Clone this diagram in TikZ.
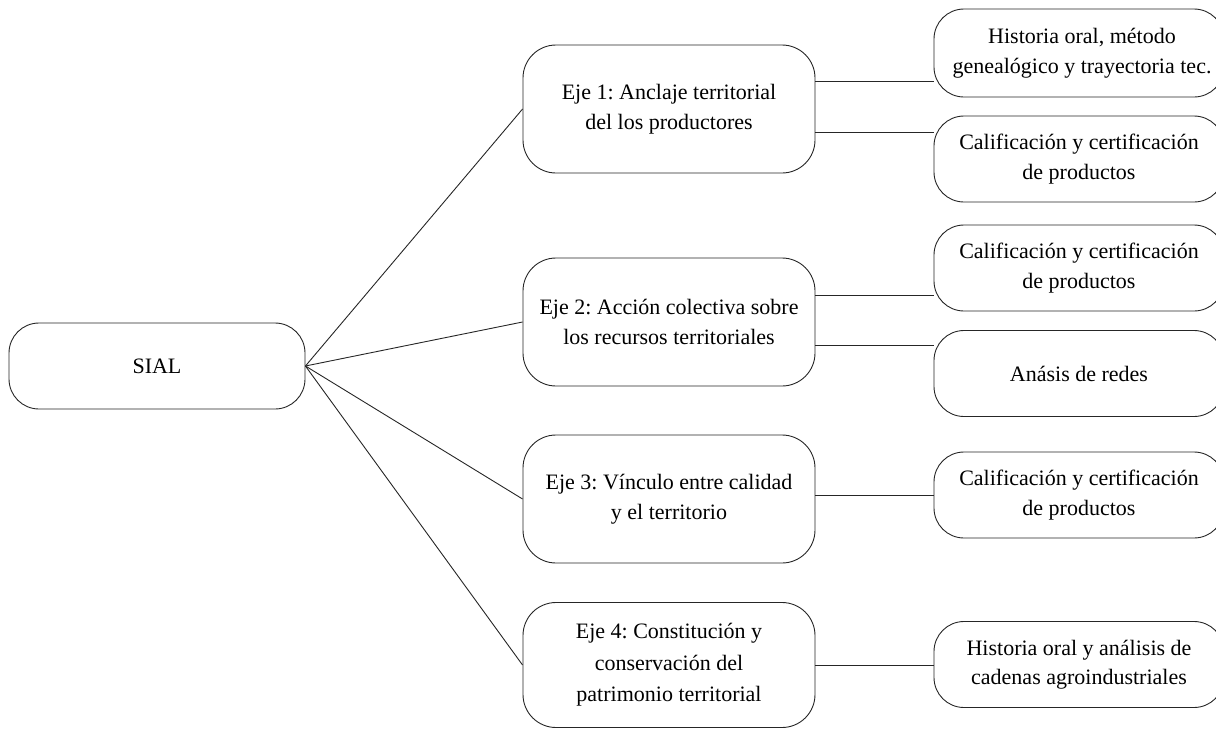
\documentclass[tikz,border=0pt]{standalone}
\usepackage{fontspec}
\setmainfont{Liberation Serif}
\frenchspacing
\begin{document}
\begin{tikzpicture}[x=1pt,y=-1pt,
  box/.style={draw=black!85, line width=0.9pt, rounded corners=30pt, align=center,
              font=\fontsize{22}{29.5}\selectfont, inner sep=0pt},
  eje/.style={box, rounded corners=33pt, minimum width=292pt, minimum height=128pt},
  res/.style={box, minimum width=290pt, minimum height=86pt},
  link/.style={draw=black!85, line width=0.9pt}]
\useasboundingbox (0,0) rectangle (1216,729);
\clip (0,0) rectangle (1216,729);
\node[box, minimum width=296pt, minimum height=86pt] (sial) at (157,366) {SIAL};
\node[eje] (e1) at (669,109) {Eje 1: Anclaje territorial\\del los productores};
\node[eje] (e2) at (669,322) {Eje 2: Acción colectiva sobre\\los recursos territoriales};
\node[eje] (e3) at (669,499) {Eje 3: Vínculo entre calidad\\y el territorio};
\node[eje, minimum height=125pt, font=\fontsize{22}{31.5}\selectfont] (e4) at (669,665) {Eje 4: Constitución y\\conservación del\\patrimonio territorial};
\node[res, minimum height=88pt] (r1) at (1079,53) {\hspace*{6pt}Historia oral, método\\\hspace*{6pt}genealógico y trayectoria tec.};
\node[res] (r2) at (1079,159) {Calificación y certificación\\de productos};
\node[res] (r3) at (1079,268) {Calificación y certificación\\de productos};
\node[res] (r4) at (1079,373.5) {Anásis de redes};
\node[res] (r5) at (1079,495) {Calificación y certificación\\de productos};
\node[res] (r6) at (1079,664.5) {Historia oral y análisis de\\cadenas agroindustriales};
\draw[link] (sial.east) -- (e1.west);
\draw[link] (sial.east) -- (e2.west);
\draw[link] (sial.east) -- (e3.west);
\draw[link] (sial.east) -- (e4.west);
\draw[link] (e1.east |- 0,81) -- (r1.west |- 0,81);
\draw[link] (e1.east |- 0,132) -- (r2.west |- 0,132);
\draw[link] (e2.east |- 0,295) -- (r3.west |- 0,295);
\draw[link] (e2.east |- 0,345) -- (r4.west |- 0,345);
\draw[link] (e3.east |- 0,495) -- (r5.west |- 0,495);
\draw[link] (e4.east |- 0,665) -- (r6.west |- 0,665);
\end{tikzpicture}
\end{document}
